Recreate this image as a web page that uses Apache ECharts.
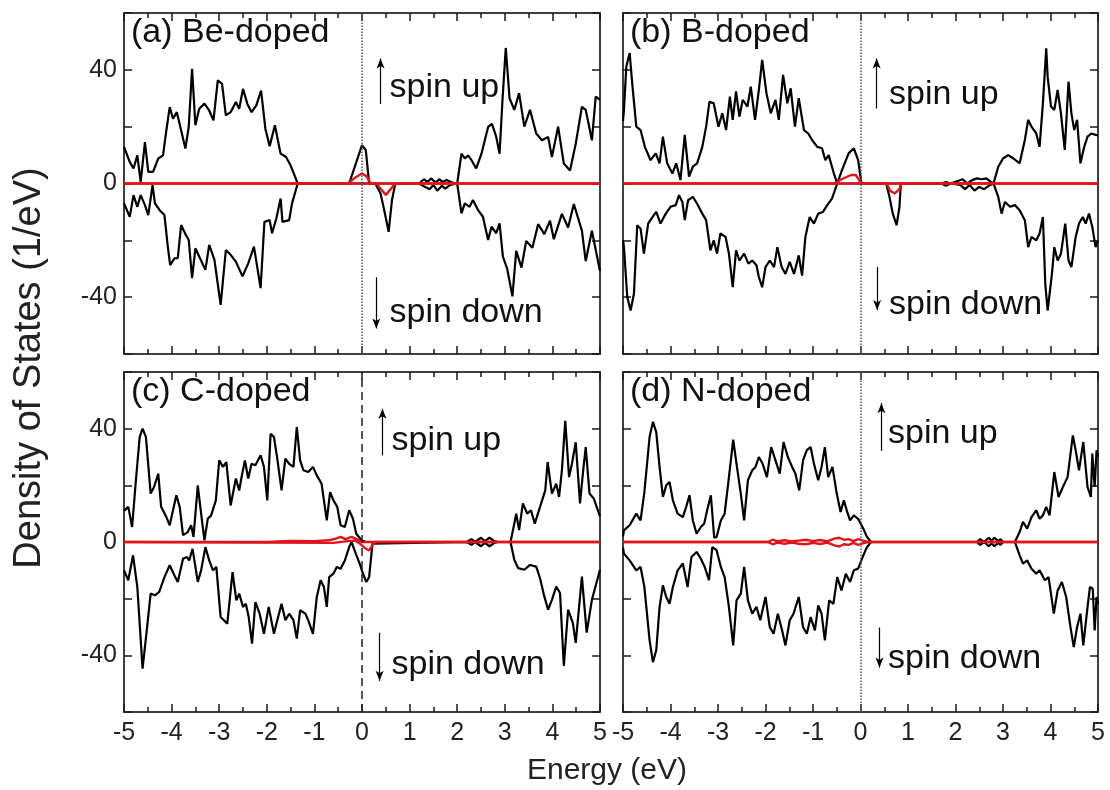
<!DOCTYPE html>
<html>
<head>
<meta charset="utf-8">
<title>DOS</title>
<script src="https://cdn.jsdelivr.net/npm/echarts@6.0.0/dist/echarts.min.js"></script>
<style>
  html, body { margin: 0; padding: 0; background: #fff; }
  #main { width: 1110px; height: 790px; }
</style>
</head>
<body>
<div id="main"></div>
<script>
// panel names and y tick labels
const panelNames = ['(a) Be-doped', '(b) B-doped', '(c) C-doped', '(d) N-doped'];
const yLabelValues = [-40, 0, 40];

// (a) Be-doped  [energy, DOS]
const beUp = [[-5,12.9],[-4.88,7.6],[-4.8,5.3],[-4.72,9.9],[-4.65,0.6],[-4.56,14.6],[-4.49,4.1],[-4.39,4.1],[-4.28,8.8],[-4.18,9.9],[-4.12,17.5],[-4.04,26.9],[-3.97,22.8],[-3.89,25.1],[-3.8,18.7],[-3.71,12.3],[-3.64,19.9],[-3.57,40.4],[-3.5,20.5],[-3.42,26.3],[-3.31,28.1],[-3.21,25.7],[-3.12,22.2],[-3.03,36.3],[-2.94,35.1],[-2.86,24],[-2.76,25.1],[-2.65,28.7],[-2.58,26.3],[-2.5,33.3],[-2.41,28.1],[-2.32,25.1],[-2.22,27.5],[-2.12,32.7],[-2.03,19.3],[-1.94,13.1],[-1.83,20.5],[-1.71,10.5],[-1.6,9.4],[-1.5,6.4],[-1.35,0],[-0.27,0],[-0.13,7],[0,13.5],[0.08,11.7],[0.15,0],[1.2,0],[1.3,1.5],[1.38,0.5],[1.45,1.8],[1.55,0.3],[1.62,1.5],[1.7,0.5],[1.78,1.2],[1.9,0.3],[2,0],[2.09,10.5],[2.16,8.8],[2.23,9.9],[2.3,8.2],[2.4,5.3],[2.51,10.5],[2.58,15.2],[2.65,19.9],[2.73,21],[2.82,16.4],[2.89,10.5],[2.95,29],[3.02,47.7],[3.1,30],[3.2,25.9],[3.3,31.8],[3.41,20],[3.53,25.9],[3.66,17.6],[3.78,15.2],[3.91,16.4],[3.99,9.3],[4.12,20],[4.24,7],[4.37,4.6],[4.49,14],[4.62,27],[4.7,25.9],[4.83,15.2],[4.91,30.6],[5,29.4]];
const beDown = [[-5,-7],[-4.88,-11.7],[-4.8,-4.1],[-4.72,-8.2],[-4.65,-4.1],[-4.56,-7.6],[-4.49,-11.1],[-4.4,-0.6],[-4.35,-7],[-4.25,-9.4],[-4.15,-11.1],[-4.08,-22.2],[-4.03,-28.7],[-3.94,-26.3],[-3.87,-26.3],[-3.8,-14.6],[-3.7,-18.1],[-3.64,-19.9],[-3.57,-33.3],[-3.5,-22.8],[-3.42,-25.7],[-3.29,-30.4],[-3.21,-21.6],[-3.1,-26.9],[-2.97,-42.7],[-2.86,-23.4],[-2.76,-25.1],[-2.65,-27.5],[-2.51,-32.7],[-2.39,-28.1],[-2.27,-22.2],[-2.13,-36.8],[-2.05,-13.5],[-1.94,-12.9],[-1.89,-17.5],[-1.8,-12.3],[-1.71,-5.3],[-1.67,-13.5],[-1.53,-12.9],[-1.47,-7],[-1.35,0],[0.28,0],[0.39,-3.5],[0.48,-10.5],[0.56,-17],[0.63,-5.8],[0.7,0],[1.2,0],[1.3,-1],[1.42,-2],[1.5,-0.5],[1.58,-2.5],[1.68,-0.8],[1.75,-1.8],[1.85,-0.5],[2,0],[2.09,-10.5],[2.16,-7],[2.26,-8.2],[2.33,-5.8],[2.44,-9.4],[2.54,-11.7],[2.65,-19.9],[2.72,-15.2],[2.82,-17.5],[2.89,-14],[2.96,-25.7],[3.05,-30],[3.16,-39.7],[3.24,-23.7],[3.35,-29.6],[3.45,-20.2],[3.58,-22.6],[3.7,-14.3],[3.83,-17.8],[3.95,-13.1],[4.03,-19.6],[4.2,-10.7],[4.33,-15.5],[4.45,-7.2],[4.62,-16.6],[4.7,-27.3],[4.83,-16.6],[5,-30.8]];
const beRedUp = [[-5,0],[-0.3,0],[-0.15,2],[0,3.5],[0.1,2.5],[0.18,0],[5,0]];
const beRedDown = [[-5,0],[0.3,0],[0.4,-2],[0.5,-4],[0.6,-2],[0.7,0],[5,0]];

// (b) B-doped
const bUp = [[-5,22],[-4.98,25.9],[-4.93,41.2],[-4.86,45.9],[-4.8,34.1],[-4.72,20],[-4.63,18.8],[-4.54,12.9],[-4.42,8.2],[-4.31,10.6],[-4.23,7.1],[-4.16,16.5],[-4.07,7.1],[-3.96,3.5],[-3.88,7.1],[-3.79,1.2],[-3.7,17.1],[-3.61,2.4],[-3.53,5.9],[-3.44,7.1],[-3.33,12.9],[-3.25,20],[-3.18,28.8],[-3.09,28.2],[-2.99,20],[-2.91,24.7],[-2.83,18.8],[-2.75,30.6],[-2.69,22.4],[-2.62,32.4],[-2.55,23.5],[-2.48,29.4],[-2.38,27.1],[-2.31,34.1],[-2.22,22.4],[-2.14,32.9],[-2.07,43.5],[-1.98,31.8],[-1.89,24.7],[-1.79,29.4],[-1.72,22.4],[-1.63,38.2],[-1.54,28.2],[-1.47,33.5],[-1.38,20],[-1.3,30],[-1.19,18.8],[-1.1,17.6],[-1.02,15.3],[-0.91,12.9],[-0.81,12.4],[-0.74,8.2],[-0.67,10],[-0.56,3.5],[-0.49,0],[-0.39,4.7],[-0.25,10.6],[-0.14,12.4],[-0.05,8.2],[0.02,0],[1.7,0],[1.8,0.5],[1.9,0],[2.15,1.5],[2.25,0],[2.35,1.2],[2.45,1.8],[2.55,1.5],[2.65,1.8],[2.75,0.5],[2.8,0],[2.9,5.9],[3,8.8],[3.11,10],[3.22,8.8],[3.35,7.1],[3.46,15.3],[3.53,22.4],[3.6,20],[3.7,17.6],[3.77,12.9],[3.84,28.2],[3.91,47.6],[3.94,37.6],[4.01,27.1],[4.08,25.9],[4.15,32.9],[4.22,24.7],[4.3,11.8],[4.38,35.9],[4.44,24.7],[4.5,18.8],[4.56,22.4],[4.63,7.1],[4.71,12.9],[4.78,16.5],[4.86,17.6],[4.95,17.1],[5,17]];
const bDown = [[-5,-20],[-4.98,-22.4],[-4.91,-40],[-4.84,-44.7],[-4.77,-38.8],[-4.7,-14.7],[-4.63,-15.9],[-4.56,-24.7],[-4.47,-14.1],[-4.38,-11.8],[-4.3,-10],[-4.21,-14.1],[-4.1,-10.6],[-4,-8.2],[-3.89,-7.6],[-3.82,-4.1],[-3.75,-6.5],[-3.7,-12.9],[-3.63,-5.9],[-3.53,-4.7],[-3.44,-7.1],[-3.33,-10.6],[-3.25,-12.9],[-3.16,-23.5],[-3.09,-20],[-3.02,-24.7],[-2.95,-17.6],[-2.84,-18.8],[-2.77,-24.7],[-2.69,-36.5],[-2.62,-23.5],[-2.55,-27.1],[-2.45,-24.7],[-2.36,-28.2],[-2.28,-27.1],[-2.19,-28.8],[-2.14,-32.9],[-2.07,-36.5],[-2,-29.4],[-1.91,-27.1],[-1.82,-29.4],[-1.75,-22.4],[-1.66,-29.4],[-1.58,-31.8],[-1.49,-27.6],[-1.4,-31.8],[-1.3,-25.3],[-1.23,-32.4],[-1.16,-18.8],[-1.07,-11.8],[-0.98,-14.1],[-0.89,-10.6],[-0.79,-10],[-0.7,-7.6],[-0.6,-5.3],[-0.49,0],[0.54,0],[0.61,-4.7],[0.68,-10.6],[0.76,-14.7],[0.82,-8.2],[0.85,0],[1.7,0],[1.8,-0.8],[1.9,0],[2.1,-0.5],[2.2,-2],[2.3,-0.5],[2.4,-2.5],[2.5,-1.2],[2.6,-2],[2.7,-0.8],[2.8,0],[2.9,-4.7],[2.97,-10.6],[3.04,-6.5],[3.15,-8.2],[3.25,-7.6],[3.35,-9.4],[3.46,-12.9],[3.53,-22.4],[3.6,-18.8],[3.7,-20],[3.77,-17.6],[3.84,-11.8],[3.89,-35.3],[3.94,-44.7],[4.03,-31.8],[4.08,-22.4],[4.15,-27.1],[4.22,-24.7],[4.31,-14.1],[4.38,-27.1],[4.44,-29.4],[4.53,-18.8],[4.6,-14.1],[4.68,-11.8],[4.74,-14.1],[4.81,-10.6],[4.88,-15.3],[4.95,-22.4],[5,-20]];
const bRedUp = [[-5,0],[-0.55,0],[-0.4,1.5],[-0.2,3],[-0.1,3],[0,0.5],[0.05,0],[5,0]];
const bRedDown = [[-5,0],[0.55,0],[0.62,-2.5],[0.72,-3.5],[0.82,-2],[0.85,0],[5,0]];

// (c) C-doped
const cUp = [[-5,11],[-4.91,12.4],[-4.83,5.3],[-4.75,21.8],[-4.67,37.1],[-4.61,40],[-4.54,37.1],[-4.44,17.1],[-4.37,19.4],[-4.28,24.1],[-4.22,12.4],[-4.11,8.8],[-4.04,5.9],[-3.9,16.5],[-3.83,12.4],[-3.76,2.4],[-3.66,3.5],[-3.59,5.9],[-3.54,1.8],[-3.45,20],[-3.38,10],[-3.31,0.6],[-3.24,8.2],[-3.17,9.4],[-3.07,14.7],[-3,28.8],[-2.92,26.5],[-2.85,28.2],[-2.76,12.9],[-2.65,22.4],[-2.58,18.2],[-2.53,22.9],[-2.46,28.8],[-2.39,22.4],[-2.32,27.6],[-2.24,27.1],[-2.13,30.6],[-2.06,26.5],[-1.99,14.7],[-1.92,38.2],[-1.85,37.1],[-1.78,29.4],[-1.69,18.2],[-1.61,29.4],[-1.53,27.6],[-1.44,26.5],[-1.37,40.6],[-1.3,28.8],[-1.23,25.3],[-1.13,24.7],[-1.03,26.5],[-0.95,23.5],[-0.85,20.6],[-0.74,7.6],[-0.67,17.6],[-0.6,14.7],[-0.52,12.4],[-0.45,5.9],[-0.36,5.3],[-0.27,11.2],[-0.19,8.2],[-0.12,2.9],[-0.01,0.6],[0.09,0],[2.2,0],[2.3,1],[2.38,0],[2.5,1.5],[2.58,0.3],[2.68,1.5],[2.78,0.3],[2.85,0],[3.12,0],[3.2,6.5],[3.24,10],[3.3,4.2],[3.38,13.6],[3.47,10],[3.55,11.2],[3.63,6.5],[3.74,12.4],[3.85,18.2],[3.9,28.2],[3.99,17.1],[4.08,20.6],[4.14,15.9],[4.2,25.3],[4.27,42.8],[4.35,22.9],[4.41,27.6],[4.49,35.2],[4.58,13.6],[4.64,24.1],[4.7,33.5],[4.78,17.1],[4.87,15.3],[5,9]];
const cDown = [[-5,-10],[-4.91,-13.5],[-4.81,-4.7],[-4.72,-15.9],[-4.61,-44.7],[-4.53,-32.4],[-4.44,-18.2],[-4.35,-18.8],[-4.26,-17.6],[-4.15,-12.4],[-4.04,-8.2],[-3.94,-11.8],[-3.87,-14.1],[-3.76,-5.9],[-3.68,-5.3],[-3.63,-6.5],[-3.56,-2.4],[-3.45,-14.1],[-3.38,-10],[-3.29,-1.8],[-3.21,-6.5],[-3.13,-10],[-3.06,-8.8],[-2.97,-26.5],[-2.83,-28.8],[-2.72,-10.6],[-2.64,-20.6],[-2.58,-18.2],[-2.5,-22.9],[-2.44,-21.8],[-2.38,-26.5],[-2.31,-35.9],[-2.24,-21.2],[-2.15,-25.3],[-2.06,-32.4],[-1.96,-22.9],[-1.85,-32.4],[-1.78,-27.6],[-1.69,-21.8],[-1.61,-27.6],[-1.53,-25.3],[-1.44,-27.6],[-1.37,-34.1],[-1.3,-24.1],[-1.19,-25.3],[-1.13,-27.6],[-1.03,-32.4],[-0.95,-19.4],[-0.87,-13.5],[-0.8,-15.9],[-0.74,-22.9],[-0.69,-12.4],[-0.6,-11.2],[-0.53,-8.8],[-0.45,-9.4],[-0.36,-6.5],[-0.27,-1.8],[-0.22,0],[-0.13,-4.1],[-0.05,-7.6],[0.02,-11.2],[0.09,-14.1],[0.15,-12.4],[0.22,-0.6],[0.26,0],[2.2,0],[2.3,-1],[2.38,0],[2.5,-1.5],[2.58,-0.3],[2.68,-1.5],[2.78,-0.3],[2.85,0],[3.12,0],[3.2,-6.3],[3.28,-9.2],[3.41,-9.8],[3.53,-8.1],[3.66,-8.7],[3.74,-12.8],[3.83,-19.2],[3.91,-23.9],[3.99,-20.4],[4.08,-15.7],[4.16,-18],[4.24,-43.7],[4.33,-23.9],[4.43,-28.6],[4.49,-35.6],[4.62,-12.2],[4.72,-32],[4.83,-20.4],[5,-9.8]];
const cRedUp = [[-5,0],[-2,0],[-1.5,0.4],[-1,0.3],[-0.7,0.6],[-0.55,1.2],[-0.45,1.8],[-0.35,1],[-0.22,1.8],[-0.12,1],[0,0],[5,0]];
const cRedDown = [[-5,0],[-0.6,-0.3],[-0.3,0.3],[-0.15,0.5],[-0.05,-0.5],[0.05,-2],[0.15,-3],[0.22,-1],[0.28,0],[5,0]];

// (d) N-doped
const nUp = [[-5,2],[-4.98,4.1],[-4.86,5.9],[-4.72,10],[-4.63,7.6],[-4.55,17.6],[-4.44,37.1],[-4.37,42.4],[-4.3,38.8],[-4.23,26.5],[-4.16,15.9],[-4.09,20],[-4.02,21.2],[-3.95,14.7],[-3.85,10],[-3.74,8.8],[-3.67,12.4],[-3.6,16.5],[-3.53,7.6],[-3.45,2.9],[-3.36,5.3],[-3.29,6.5],[-3.22,11.8],[-3.15,16.5],[-3.08,1.5],[-3.03,1.8],[-2.94,7.6],[-2.86,10],[-2.77,22.9],[-2.68,36.1],[-2.61,27.6],[-2.52,17.1],[-2.45,7.6],[-2.37,21.8],[-2.28,25.3],[-2.21,26.5],[-2.14,30],[-2.06,27.6],[-1.97,22.9],[-1.88,33.5],[-1.79,28.8],[-1.7,24.1],[-1.62,35.3],[-1.53,30],[-1.44,26.5],[-1.37,24.1],[-1.29,18.2],[-1.21,28.8],[-1.13,32.4],[-1.05,33.5],[-0.98,27.6],[-0.89,21.8],[-0.82,26.5],[-0.75,33.5],[-0.68,22.9],[-0.59,26.5],[-0.5,17.1],[-0.42,10.6],[-0.35,14.7],[-0.28,10.6],[-0.22,7.6],[-0.14,9.4],[-0.05,8.2],[0.06,4.7],[0.13,2],[0.22,0],[2.45,0],[2.52,1],[2.6,0],[2.7,1.5],[2.76,0.5],[2.82,1.5],[2.9,0.3],[2.95,1],[3,0],[3.25,0],[3.35,3.5],[3.42,7.1],[3.51,4.7],[3.6,8.8],[3.7,11.2],[3.77,8.2],[3.84,9.4],[3.91,12.4],[3.98,9.4],[4.08,24.7],[4.17,15.9],[4.26,19.4],[4.36,22.9],[4.47,37.6],[4.53,32.4],[4.6,25.3],[4.69,35.3],[4.78,19.4],[4.85,15.9],[4.88,31.2],[4.93,19.4],[4.97,32.4],[5,30]];
const nDown = [[-5,-2],[-4.98,-4.1],[-4.86,-6.5],[-4.72,-10],[-4.63,-8.8],[-4.55,-15.9],[-4.44,-34.7],[-4.37,-42.4],[-4.3,-38.2],[-4.23,-22.9],[-4.16,-15.3],[-4.09,-19.4],[-4.02,-21.8],[-3.95,-15.9],[-3.85,-10],[-3.74,-7.6],[-3.64,-15.9],[-3.56,-5.3],[-3.45,-3.5],[-3.36,-5.9],[-3.28,-8.8],[-3.19,-13.5],[-3.12,-1.8],[-3.03,-2.9],[-2.94,-8.8],[-2.86,-12.4],[-2.77,-22.9],[-2.68,-36.5],[-2.61,-20.6],[-2.52,-18.2],[-2.45,-8.8],[-2.37,-20.6],[-2.28,-25.3],[-2.19,-22.9],[-2.11,-27.6],[-2,-19.4],[-1.91,-30],[-1.83,-32.4],[-1.74,-25.3],[-1.65,-31.2],[-1.58,-36.5],[-1.49,-27.6],[-1.41,-25.3],[-1.3,-19.4],[-1.21,-30],[-1.13,-32.4],[-1.05,-26.5],[-0.96,-31.2],[-0.89,-22.4],[-0.82,-25.3],[-0.75,-34.7],[-0.66,-20.6],[-0.57,-21.8],[-0.49,-12.4],[-0.4,-17.1],[-0.31,-11.2],[-0.22,-14.1],[-0.14,-10],[-0.05,-9.4],[0.06,-4.7],[0.13,-2],[0.22,0],[2.45,0],[2.52,-1],[2.6,0],[2.7,-1.5],[2.76,-0.5],[2.82,-1.5],[2.9,-0.3],[2.95,-1],[3,0],[3.25,0],[3.35,-4.7],[3.42,-7.6],[3.51,-6.5],[3.6,-9.4],[3.7,-11.2],[3.77,-10],[3.88,-13.5],[3.96,-12.4],[4.07,-25.3],[4.15,-17.1],[4.24,-14.1],[4.33,-19.4],[4.42,-30],[4.49,-37.1],[4.56,-30],[4.63,-25.3],[4.69,-36.5],[4.78,-22.9],[4.83,-15.9],[4.89,-16.5],[4.93,-31.2],[4.97,-19.4],[5,-22]];
const nRedUp = [[-5,0],[-1.95,0],[-1.85,0.8],[-1.75,0.2],[-1.6,0.6],[-1.45,0.2],[-1.3,0.5],[-1.15,0.8],[-1,0.3],[-0.85,0.7],[-0.7,0.2],[-0.55,1.2],[-0.45,1.5],[-0.35,0.8],[-0.25,1],[-0.15,0.3],[-0.05,1],[0.05,0.5],[0.15,0],[5,0]];
const nRedDown = [[-5,0],[-1.95,0],[-1.85,-0.8],[-1.75,-0.2],[-1.6,-0.6],[-1.45,-0.2],[-1.3,-0.6],[-1.15,-0.8],[-1,-0.3],[-0.85,-0.7],[-0.7,-0.2],[-0.55,-1.2],[-0.45,-1.6],[-0.35,-0.8],[-0.25,-1],[-0.15,-0.3],[-0.05,-1],[0.05,-0.5],[0.15,0],[5,0]];

const FONT = '"Liberation Sans", Arial, Helvetica, sans-serif';
const INK = '#1a1a1a';
const RED = '#e0141b';

// layout / annotation placement per panel
const panels = [
  { up: beUp, down: beDown, redUp: beRedUp, redDown: beRedDown, zeroType: 'dotted', zeroColor: '#555',
    grid: { left: 124, top: 13, width: 476, height: 341 },
    upArrow: [0.39, 28, 44], downArrow: [0.3, -33, -51], upText: [0.58, 33.8], downText: [0.58, -45.6] },
  { up: bUp, down: bDown, redUp: bRedUp, redDown: bRedDown, zeroType: 'dotted', zeroColor: '#555',
    grid: { left: 623, top: 13, width: 475, height: 341 },
    upArrow: [0.34, 26.4, 44], downArrow: [0.35, -29.4, -44.5], upText: [0.6, 31.3], downText: [0.6, -42.7] },
  { up: cUp, down: cDown, redUp: cRedUp, redDown: cRedDown, zeroType: [8, 5], zeroColor: '#222',
    grid: { left: 124, top: 372, width: 476, height: 340 },
    upArrow: [0.43, 30.6, 47], downArrow: [0.37, -32, -49], upText: [0.62, 35.8], downText: [0.62, -43.3] },
  { up: nUp, down: nDown, redUp: nRedUp, redDown: nRedDown, zeroType: 'dotted', zeroColor: '#555',
    grid: { left: 623, top: 372, width: 475, height: 340 },
    upArrow: [0.44, 32.2, 49], downArrow: [0.4, -30.2, -44.3], upText: [0.58, 38.3], downText: [0.58, -41] }
];

const tickStyle = { color: INK, width: 1.5 };

function xAxisFor(i, top) {
  return {
    gridIndex: i, type: 'value', min: -5, max: 5, interval: 1,
    position: top ? 'top' : 'bottom',
    axisLine: { onZero: false, lineStyle: { color: '#333', width: 1.5 } },
    axisTick: { inside: true, length: 8, lineStyle: tickStyle },
    minorTick: { show: true, splitNumber: 2, length: 5, lineStyle: tickStyle },
    axisLabel: { show: !top && i >= 2, fontSize: 25, color: '#222', margin: 9, fontFamily: FONT },
    splitLine: { show: false }
  };
}

function yAxisFor(i, right) {
  return {
    gridIndex: i, type: 'value', min: -60, max: 60, interval: 20,
    position: right ? 'right' : 'left',
    axisLine: { onZero: false, lineStyle: { color: '#333', width: 1.5 } },
    axisTick: { inside: true, length: 8, lineStyle: tickStyle },
    axisLabel: {
      show: !right && (i === 0 || i === 2), fontSize: 25, color: '#222', margin: 7, fontFamily: FONT,
      formatter: function (v) { return yLabelValues.indexOf(v) >= 0 ? String(v) : ''; }
    },
    splitLine: { show: false }
  };
}

const xAxes = [], yAxes = [], series = [], titles = [];
panels.forEach(function (p, i) {
  xAxes.push(xAxisFor(i, false), xAxisFor(i, true));
  yAxes.push(yAxisFor(i, false), yAxisFor(i, true));
  titles.push({
    text: panelNames[i], left: p.grid.left + 2, top: p.grid.top - 2,
    textStyle: { fontSize: 34, fontWeight: 'normal', color: '#111', fontFamily: FONT }
  });
  const ax = { xAxisIndex: 2 * i, yAxisIndex: 2 * i };
  const black = { type: 'line', symbol: 'none', showSymbol: false, silent: true, z: 2,
    lineStyle: { color: '#000', width: 2.2 }, itemStyle: { color: '#000' } };
  const red = { type: 'line', symbol: 'none', showSymbol: false, silent: true, z: 3,
    lineStyle: { color: RED, width: 2.4 }, itemStyle: { color: RED } };

  series.push(Object.assign({}, black, ax, {
    data: p.up,
    markLine: {
      silent: true, symbol: 'none', label: { show: false }, animation: false,
      lineStyle: { color: p.zeroColor, width: 1.5, type: p.zeroType },
      data: [{ xAxis: 0 }]
    }
  }));
  series.push(Object.assign({}, black, ax, {
    data: p.down,
    markLine: {
      silent: true, symbol: ['none', 'arrow'], symbolSize: [6, 10], label: { show: false }, animation: false,
      lineStyle: { color: '#000', width: 1.2, type: 'solid' },
      data: [
        [{ coord: [p.upArrow[0], p.upArrow[1]] }, { coord: [p.upArrow[0], p.upArrow[2]] }],
        [{ coord: [p.downArrow[0], p.downArrow[1]] }, { coord: [p.downArrow[0], p.downArrow[2]] }]
      ]
    }
  }));
  series.push(Object.assign({}, red, ax, {
    data: p.redUp,
    markPoint: {
      silent: true, symbol: 'rect', symbolSize: 1, animation: false,
      itemStyle: { color: 'rgba(0,0,0,0)' },
      label: { show: true, position: 'inside', align: 'left', verticalAlign: 'middle',
        fontSize: 34, color: '#111', fontFamily: FONT },
      data: [
        { coord: p.upText, value: 1, label: { formatter: 'spin up' } },
        { coord: p.downText, value: 2, label: { formatter: 'spin down' } }
      ]
    }
  }));
  series.push(Object.assign({}, red, ax, { data: p.redDown }));
});

const chart = echarts.init(document.getElementById('main'));
chart.setOption({
  animation: false,
  backgroundColor: '#fff',
  title: titles,
  grid: panels.map(function (p) {
    return Object.assign({ show: true, borderColor: '#333', borderWidth: 1.5, backgroundColor: 'transparent' }, p.grid);
  }),
  xAxis: xAxes,
  yAxis: yAxes,
  series: series,
  graphic: [
    { type: 'text', x: 30, y: 368, rotation: Math.PI / 2, silent: true,
      style: { text: 'Density of States (1/eV)', fill: '#222', font: '38px ' + FONT, align: 'center', verticalAlign: 'middle' } },
    { type: 'text', x: 607, y: 771, silent: true,
      style: { text: 'Energy (eV)', fill: '#222', font: '30px ' + FONT, align: 'center', verticalAlign: 'middle' } }
  ]
});
window.addEventListener('resize', function () { chart.resize(); });
</script>
</body>
</html>
